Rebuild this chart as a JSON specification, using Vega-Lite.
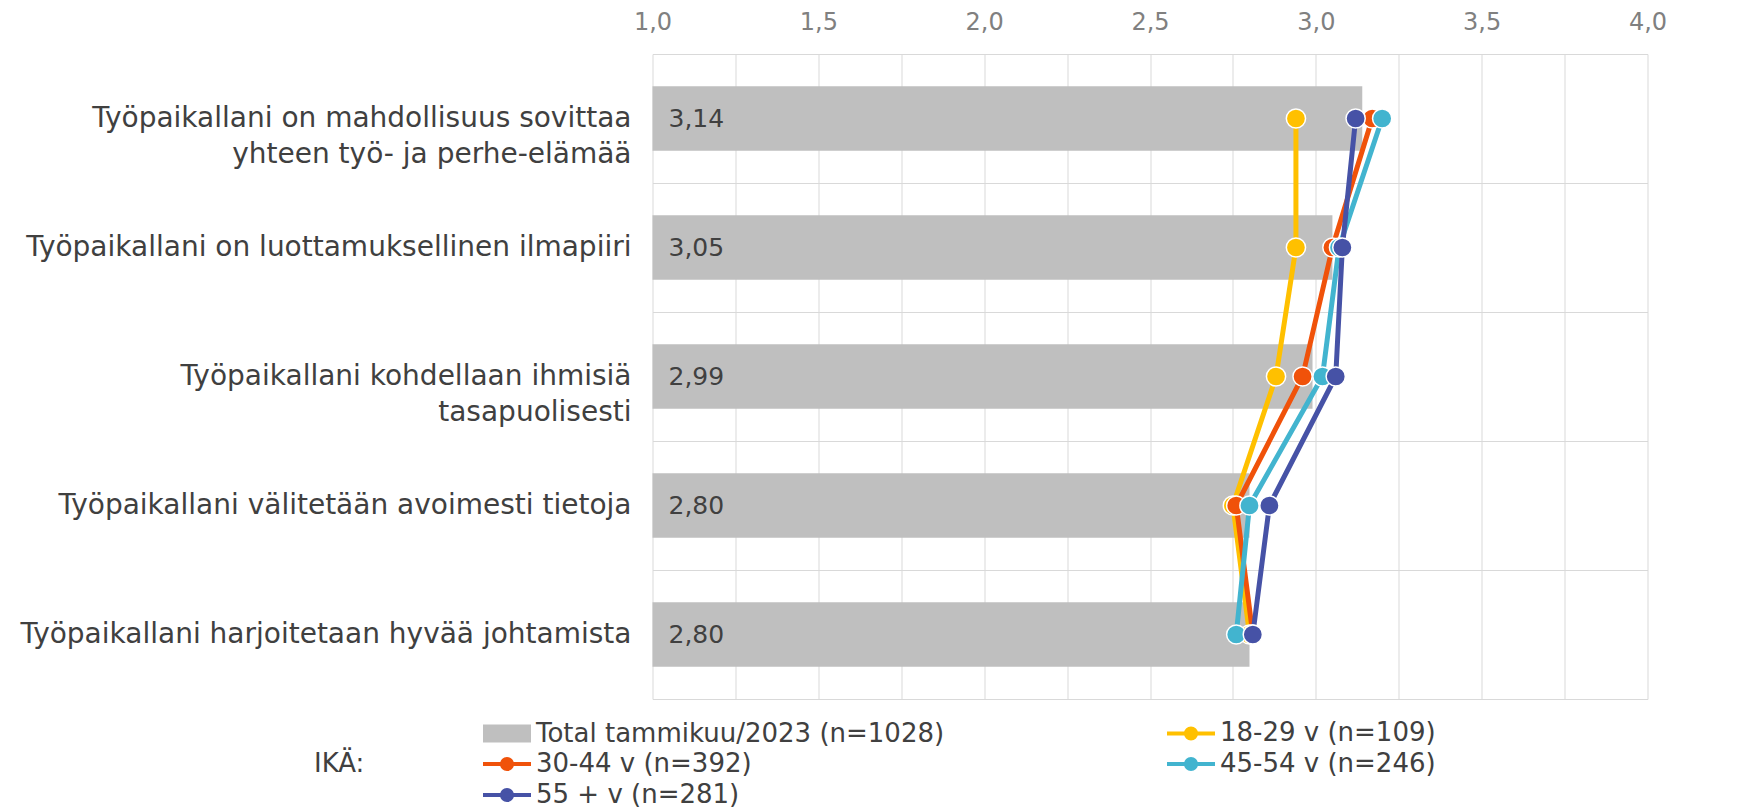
{
  "$schema": "https://vega.github.io/schema/vega-lite/v6.json",
  "width": 995,
  "height": 645,
  "autosize": {"type": "none"},
  "padding": {"left": 652.5, "top": 54, "right": 93.5, "bottom": 113},
  "background": "white",
  "config": {
    "locale": {"number": {"decimal": ",", "thousands": " ", "grouping": [3], "currency": ["", " €"]}},
    "view": {"stroke": null},
    "font": "DejaVu Sans"
  },
  "data": {
    "values": [
      {"kysymys": "Työpaikallani on mahdollisuus sovittaa yhteen työ- ja perhe-elämää", "nro": 1, "ryhma": "Total tammikuu/2023 (n=1028)", "arvo": 3.14},
      {"kysymys": "Työpaikallani on luottamuksellinen ilmapiiri", "nro": 2, "ryhma": "Total tammikuu/2023 (n=1028)", "arvo": 3.05},
      {"kysymys": "Työpaikallani kohdellaan ihmisiä tasapuolisesti", "nro": 3, "ryhma": "Total tammikuu/2023 (n=1028)", "arvo": 2.99},
      {"kysymys": "Työpaikallani välitetään avoimesti tietoja", "nro": 4, "ryhma": "Total tammikuu/2023 (n=1028)", "arvo": 2.80},
      {"kysymys": "Työpaikallani harjoitetaan hyvää johtamista", "nro": 5, "ryhma": "Total tammikuu/2023 (n=1028)", "arvo": 2.80},
      {"kysymys": "Työpaikallani on mahdollisuus sovittaa yhteen työ- ja perhe-elämää", "nro": 1, "ryhma": "18-29 v (n=109)", "arvo": 2.94},
      {"kysymys": "Työpaikallani on luottamuksellinen ilmapiiri", "nro": 2, "ryhma": "18-29 v (n=109)", "arvo": 2.94},
      {"kysymys": "Työpaikallani kohdellaan ihmisiä tasapuolisesti", "nro": 3, "ryhma": "18-29 v (n=109)", "arvo": 2.88},
      {"kysymys": "Työpaikallani välitetään avoimesti tietoja", "nro": 4, "ryhma": "18-29 v (n=109)", "arvo": 2.75},
      {"kysymys": "Työpaikallani harjoitetaan hyvää johtamista", "nro": 5, "ryhma": "18-29 v (n=109)", "arvo": 2.80},
      {"kysymys": "Työpaikallani on mahdollisuus sovittaa yhteen työ- ja perhe-elämää", "nro": 1, "ryhma": "30-44 v (n=392)", "arvo": 3.17},
      {"kysymys": "Työpaikallani on luottamuksellinen ilmapiiri", "nro": 2, "ryhma": "30-44 v (n=392)", "arvo": 3.05},
      {"kysymys": "Työpaikallani kohdellaan ihmisiä tasapuolisesti", "nro": 3, "ryhma": "30-44 v (n=392)", "arvo": 2.96},
      {"kysymys": "Työpaikallani välitetään avoimesti tietoja", "nro": 4, "ryhma": "30-44 v (n=392)", "arvo": 2.76},
      {"kysymys": "Työpaikallani harjoitetaan hyvää johtamista", "nro": 5, "ryhma": "30-44 v (n=392)", "arvo": 2.81},
      {"kysymys": "Työpaikallani on mahdollisuus sovittaa yhteen työ- ja perhe-elämää", "nro": 1, "ryhma": "45-54 v (n=246)", "arvo": 3.20},
      {"kysymys": "Työpaikallani on luottamuksellinen ilmapiiri", "nro": 2, "ryhma": "45-54 v (n=246)", "arvo": 3.07},
      {"kysymys": "Työpaikallani kohdellaan ihmisiä tasapuolisesti", "nro": 3, "ryhma": "45-54 v (n=246)", "arvo": 3.02},
      {"kysymys": "Työpaikallani välitetään avoimesti tietoja", "nro": 4, "ryhma": "45-54 v (n=246)", "arvo": 2.80},
      {"kysymys": "Työpaikallani harjoitetaan hyvää johtamista", "nro": 5, "ryhma": "45-54 v (n=246)", "arvo": 2.76},
      {"kysymys": "Työpaikallani on mahdollisuus sovittaa yhteen työ- ja perhe-elämää", "nro": 1, "ryhma": "55 + v (n=281)", "arvo": 3.12},
      {"kysymys": "Työpaikallani on luottamuksellinen ilmapiiri", "nro": 2, "ryhma": "55 + v (n=281)", "arvo": 3.08},
      {"kysymys": "Työpaikallani kohdellaan ihmisiä tasapuolisesti", "nro": 3, "ryhma": "55 + v (n=281)", "arvo": 3.06},
      {"kysymys": "Työpaikallani välitetään avoimesti tietoja", "nro": 4, "ryhma": "55 + v (n=281)", "arvo": 2.86},
      {"kysymys": "Työpaikallani harjoitetaan hyvää johtamista", "nro": 5, "ryhma": "55 + v (n=281)", "arvo": 2.81}
    ]
  },
  "encoding": {
    "y": {
      "field": "kysymys",
      "type": "nominal",
      "sort": [
        "Työpaikallani on mahdollisuus sovittaa yhteen työ- ja perhe-elämää",
        "Työpaikallani on luottamuksellinen ilmapiiri",
        "Työpaikallani kohdellaan ihmisiä tasapuolisesti",
        "Työpaikallani välitetään avoimesti tietoja",
        "Työpaikallani harjoitetaan hyvää johtamista"
      ],
      "scale": {"paddingInner": 0, "paddingOuter": 0},
      "axis": {
        "title": null,
        "domain": false,
        "ticks": false,
        "tickBand": "extent",
        "grid": true,
        "gridColor": "#D9D9D9",
        "gridWidth": 1,
        "labelFontSize": 28,
        "labelColor": "#404040",
        "labelLimit": 800,
        "labelLineHeight": 36,
        "labelPadding": 21.5,
        "labelExpr": "datum.value === 'Työpaikallani on mahdollisuus sovittaa yhteen työ- ja perhe-elämää' ? ['Työpaikallani on mahdollisuus sovittaa', 'yhteen työ- ja perhe-elämää'] : datum.value === 'Työpaikallani kohdellaan ihmisiä tasapuolisesti' ? ['Työpaikallani kohdellaan ihmisiä', 'tasapuolisesti'] : datum.label",
        "encode": {
          "labels": {
            "align": {"condition": {"test": "indexof(datum.value, 'sovittaa') >= 0 || indexof(datum.value, 'kohdellaan') >= 0", "value": "center"}, "value": "right"},
            "dx": {"condition": [
              {"test": "indexof(datum.value, 'sovittaa') >= 0", "value": -269},
              {"test": "indexof(datum.value, 'kohdellaan') >= 0", "value": -225}
            ], "value": 0},
            "dy": {"condition": {"test": "indexof(datum.value, 'sovittaa') >= 0 || indexof(datum.value, 'kohdellaan') >= 0", "value": -17}, "value": 0}
          }
        }
      }
    }
  },
  "layer": [
    {
      "transform": [{"filter": "datum.ryhma === 'Total tammikuu/2023 (n=1028)'"}],
      "mark": {"type": "bar", "height": 64.5},
      "encoding": {
        "x": {
          "field": "arvo",
          "type": "quantitative",
          "title": null,
          "scale": {"domain": [1, 4], "nice": false, "zero": false},
          "axis": {
            "orient": "top",
            "values": [1, 1.25, 1.5, 1.75, 2, 2.25, 2.5, 2.75, 3, 3.25, 3.5, 3.75, 4],
            "format": ".1f",
            "labelExpr": "datum.value % 0.5 === 0 ? datum.label : ''",
            "labelFlush": false,
            "grid": true,
            "gridColor": "#D9D9D9",
            "domain": false,
            "ticks": false,
            "labelColor": "#808080",
            "labelFontSize": 24,
            "labelPadding": 20
          }
        },
        "x2": {"datum": 1},
        "color": {
          "field": "ryhma",
          "type": "nominal",
          "scale": {
            "domain": ["Total tammikuu/2023 (n=1028)", "18-29 v (n=109)", "30-44 v (n=392)", "45-54 v (n=246)", "55 + v (n=281)"],
            "range": ["#BFBFBF", "#FFC000", "#F0520A", "#42B4CF", "#4652A6"]
          },
          "legend": {
            "title": "IKÄ:",
            "orient": "none",
            "legendX": -338.5,
            "legendY": 666,
            "direction": "horizontal",
            "columns": 2,
            "padding": 0,
            "titleOrient": "left",
            "titleAnchor": "middle",
            "titleBaseline": "middle",
            "titleFontSize": 26,
            "titleFontWeight": "normal",
            "titleColor": "#404040",
            "titlePadding": 119,
            "labelFontSize": 26,
            "labelColor": "#404040",
            "labelLimit": 700,
            "columnPadding": 214,
            "rowPadding": 3,
            "symbolSize": 576,
            "symbolStrokeWidth": 4,
            "symbolOffset": 10,
            "labelOffset": 16,
            "encode": {
              "symbols": {
                "update": {
                  "shape": {"signal": "datum.value === 'Total tammikuu/2023 (n=1028)' ? 'M-2,-0.75H2V0.75H-2Z' : 'M-2,0H2M0.42,0A0.42,0.42,0,1,1,-0.42,0A0.42,0.42,0,1,1,0.42,0Z'"},
                  "fill": {"scale": "color", "field": "value"},
                  "stroke": {"scale": "color", "field": "value"},
                  "strokeWidth": {"signal": "datum.value === 'Total tammikuu/2023 (n=1028)' ? 0 : 4"},
                  "opacity": {"value": 1}
                }
              }
            }
          }
        }
      }
    },
    {
      "transform": [{"filter": "datum.ryhma === 'Total tammikuu/2023 (n=1028)'"}],
      "mark": {"type": "text", "align": "left", "baseline": "middle", "dx": 16, "fontSize": 25, "color": "#404040"},
      "encoding": {
        "x": {"datum": 1, "type": "quantitative", "title": null},
        "text": {"field": "arvo", "type": "quantitative", "format": ".2f"}
      }
    },
    {
      "transform": [{"filter": "datum.ryhma !== 'Total tammikuu/2023 (n=1028)'"}],
      "mark": {"type": "line", "strokeWidth": 5},
      "encoding": {
        "x": {"field": "arvo", "type": "quantitative", "title": null},
        "color": {"field": "ryhma", "type": "nominal"},
        "order": {"field": "nro", "type": "quantitative"}
      }
    },
    {
      "transform": [{"filter": "datum.ryhma !== 'Total tammikuu/2023 (n=1028)'"}],
      "mark": {"type": "circle", "size": 370, "opacity": 1, "stroke": "white", "strokeWidth": 1.5},
      "encoding": {
        "x": {"field": "arvo", "type": "quantitative", "title": null},
        "color": {"field": "ryhma", "type": "nominal"}
      }
    }
  ]
}
